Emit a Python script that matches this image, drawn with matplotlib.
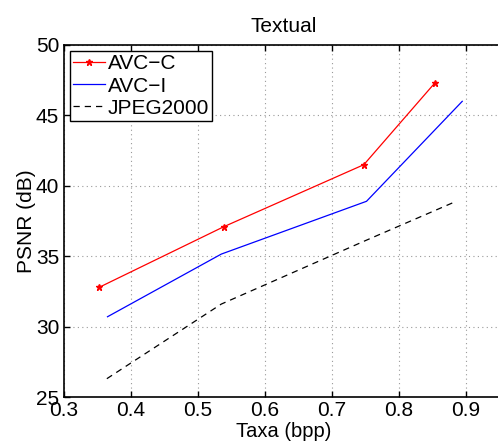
import matplotlib
matplotlib.use("Agg")
import matplotlib.pyplot as plt

plt.rcParams["font.family"] = ["Liberation Sans", "DejaVu Sans"]

avc_c_rate = [0.353, 0.539, 0.748, 0.854]
avc_c_psnr = [32.8, 37.1, 41.5, 47.3]

avc_i_rate = [0.365, 0.535, 0.752, 0.895]
avc_i_psnr = [30.7, 35.15, 38.9, 46.0]

jpeg_rate = [0.364, 0.535, 0.75, 0.886]
jpeg_psnr = [26.3, 31.6, 36.1, 38.9]

fig = plt.figure(figsize=(4.98, 4.48), dpi=100)
ax = fig.add_axes([64 / 498, 1 - 397 / 448, 1 - 64 / 498 + 0.01, (397 - 45) / 448])

ax.plot(avc_c_rate, avc_c_psnr, color="red", marker="*", markersize=5, linewidth=0.9, label="AVC\u2212C")
ax.plot(avc_i_rate, avc_i_psnr, color="blue", linewidth=0.9, label="AVC\u2212I")
ax.plot(jpeg_rate, jpeg_psnr, color="black", linestyle=(0, (5, 4)), linewidth=0.9, label="JPEG2000")

ax.set_xlim(0.3, 0.3 + (498 - 64) / 677 + 0.0148)
ax.set_ylim(25, 50)
ax.set_xticks([0.3, 0.4, 0.5, 0.6, 0.7, 0.8, 0.9])
ax.set_yticks([25, 30, 35, 40, 45, 50])
ax.tick_params(direction="in", labelsize=15, length=4, top=True, width=1)
ax.tick_params(axis="x", pad=3)
ax.grid(True, linestyle=(0, (1, 3)), color="#999999", linewidth=0.8)
ax.spines["right"].set_visible(False)
for s in ["left", "bottom", "top"]:
    ax.spines[s].set_linewidth(1.2)

ax.set_title("Textual", fontsize=15, pad=9)
ax.set_xlabel("Taxa (bpp)", fontsize=14.5, labelpad=1)
ax.set_ylabel("PSNR (dB)", fontsize=15, labelpad=0)

leg = ax.legend(loc="upper left", fontsize=15, fancybox=False, framealpha=1,
                edgecolor="black", borderaxespad=0.3, handlelength=1.5,
                handletextpad=0.15, borderpad=0.15, labelspacing=0.15)
leg.get_frame().set_linewidth(1.0)

fig.savefig("out.png", dpi=100)
